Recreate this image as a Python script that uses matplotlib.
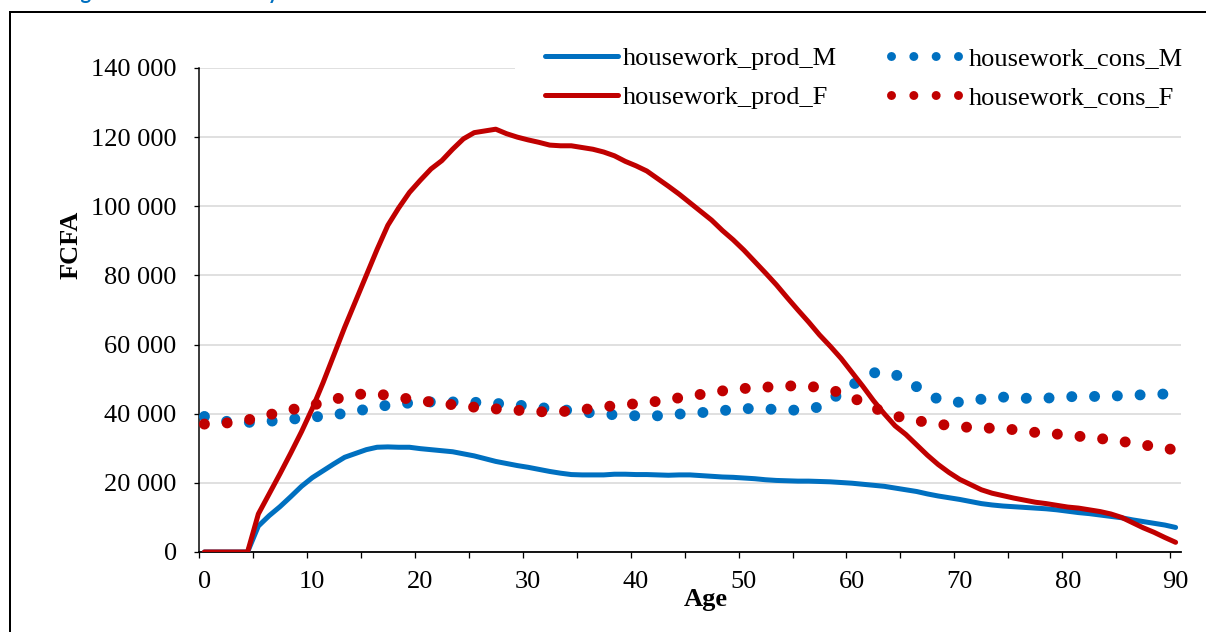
import matplotlib
matplotlib.use("Agg")
import matplotlib.pyplot as plt
from matplotlib.lines import Line2D
from matplotlib.patches import Rectangle
from matplotlib.ticker import FuncFormatter, MultipleLocator, FixedLocator

plt.rcParams['font.family'] = ['Liberation Serif', 'DejaVu Serif']

ages = list(range(0, 91))

housework_prod_M = [
    0, 0, 0, 0, 0, 7500, 10500, 13100, 16000, 19000,
    21500, 23500, 25500, 27400, 28500, 29600, 30300, 30400, 30300, 30300,
    29900, 29600, 29300, 29000, 28400, 27800, 27000, 26200, 25600, 25000,
    24500, 23900, 23300, 22800, 22400, 22300, 22300, 22300, 22500, 22500,
    22400, 22400, 22300, 22200, 22300, 22300, 22100, 21900, 21700, 21600,
    21400, 21200, 20900, 20700, 20600, 20500, 20500, 20400, 20300, 20100,
    19900, 19600, 19300, 19000, 18500, 18000, 17500, 16800, 16200, 15700,
    15200, 14600, 14000, 13600, 13300, 13100, 12900, 12700, 12500, 12200,
    11800, 11400, 11100, 10700, 10300, 9900, 9300, 8800, 8300, 7800,
    7100]

housework_prod_F = [
    0, 0, 0, 0, 0, 11000, 16800, 22600, 28600, 34800,
    41500, 49000, 57000, 65000, 72500, 80000, 87500, 94500, 99500, 104000,
    107500, 110800, 113200, 116500, 119500, 121300, 121800, 122300, 121000, 120000,
    119200, 118500, 117700, 117500, 117500, 117000, 116500, 115700, 114600, 113000,
    111700, 110200, 108000, 105800, 103500, 101000, 98500, 96000, 93000, 90300,
    87300, 84000, 80700, 77300, 73600, 70000, 66500, 62800, 59500, 56000,
    52000, 48000, 43800, 40000, 36500, 34000, 31000, 28000, 25300, 23000,
    21000, 19500, 18000, 17000, 16300, 15600, 15000, 14400, 14000, 13500,
    13000, 12700, 12200, 11700, 11000, 10000, 8500, 7000, 5700, 4200,
    2800]

housework_cons_M = [
    39200, 38500, 37800, 37600, 37500, 37600, 37800, 38100, 38400, 38700,
    39000, 39300, 39700, 40100, 40700, 41300, 41900, 42500, 42800, 43100,
    43300, 43400, 43400, 43400, 43400, 43300, 43200, 43000, 42700, 42500,
    42200, 41800, 41500, 41200, 40900, 40500, 40200, 39900, 39700, 39500,
    39400, 39400, 39400, 39600, 39900, 40100, 40300, 40600, 40900, 41200,
    41400, 41600, 41400, 41200, 41100, 41000, 41300, 42000, 43800, 46200,
    48200, 50300, 51800, 52200, 51300, 50000, 47800, 45800, 44200, 43600,
    43300, 43600, 44200, 44600, 44800, 44700, 44500, 44300, 44500, 44700,
    44900, 45000, 45000, 45000, 45100, 45200, 45300, 45500, 45600, 45700,
    45800]

housework_cons_F = [
    37000, 37100, 37300, 37700, 38200, 38900, 39700, 40400, 41100, 41800,
    42500, 43200, 44100, 44900, 45500, 45800, 45700, 45300, 44800, 44200,
    43800, 43400, 43000, 42600, 42200, 41900, 41700, 41400, 41200, 41000,
    40800, 40600, 40500, 40600, 40800, 41100, 41600, 42000, 42300, 42600,
    42900, 43200, 43600, 44100, 44600, 45100, 45600, 46100, 46600, 47000,
    47300, 47500, 47700, 47800, 48000, 48100, 47900, 47600, 46900, 46000,
    44700, 43300, 41800, 40400, 39400, 38600, 38000, 37500, 37000, 36600,
    36300, 36000, 35900, 35800, 35600, 35400, 35000, 34600, 34300, 34100,
    33900, 33500, 33100, 32800, 32500, 32000, 31500, 31000, 30500, 30000,
    29500]

x_tick_labels = ['0', '10', '20', '30', '40', '50', '60', '70', '80', '90']
x_tick_values = [0, 10, 20, 30, 40, 50, 60, 70, 80, 90]

BLUE = '#0070C0'
RED = '#C00000'
px = 72 / 100  # points per pixel at dpi 100
FS = 19

fig = plt.figure(figsize=(12.06, 6.32), dpi=100)
ax = fig.add_axes([199 / 1206, 1 - 552 / 632, (1181 - 199) / 1206, (552 - 68) / 632])

solid_lw = 5 * px
dot_lw = 11 * px
dot_style = (0, (0.001, 2.07))

l_pm, = ax.plot(ages, housework_prod_M, color=BLUE, lw=solid_lw,
                solid_joinstyle='round', solid_capstyle='round', zorder=3)
l_cm, = ax.plot(ages, housework_cons_M, color=BLUE, lw=dot_lw, linestyle=dot_style,
                dash_capstyle='round', zorder=3)
l_pf, = ax.plot(ages, housework_prod_F, color=RED, lw=solid_lw,
                solid_joinstyle='round', solid_capstyle='round', zorder=3)
l_cf, = ax.plot(ages, housework_cons_F, color=RED, lw=dot_lw, linestyle=dot_style,
                dash_capstyle='round', zorder=3)

ax.set_xlim(-0.5, 90.5)
ax.set_ylim(0, 140000)

# y axis
ax.yaxis.set_major_locator(MultipleLocator(20000))
ax.yaxis.set_major_formatter(FuncFormatter(lambda v, p: f"{int(v):,}".replace(',', ' ')))
ax.tick_params(axis='y', which='major', direction='out', length=5 * px, width=1.3 * px,
               pad=12.5, labelsize=FS, colors='black')
ax.grid(axis='y', color='#d9d9d9', lw=1.6 * px, zorder=0)
ax.set_axisbelow(True)

# x axis: labels at category centres, tick marks between categories
ax.xaxis.set_major_locator(FixedLocator(x_tick_values))
ax.set_xticklabels(x_tick_labels)
ax.xaxis.set_minor_locator(FixedLocator([-0.5 + 5 * k for k in range(19)]))
ax.tick_params(axis='x', which='major', length=0, pad=14, labelsize=FS)
ax.tick_params(axis='x', which='minor', direction='out', length=6 * px, width=1.3 * px)

for s in ['top', 'right']:
    ax.spines[s].set_visible(False)
ax.spines['left'].set_linewidth(1.5 * px)
ax.spines['bottom'].set_linewidth(1.8 * px)

ax.set_xlabel('Age', fontsize=FS, fontweight='bold')
ax.xaxis.set_label_coords((706 - 199) / 982, (552 - 588) / 484)
ax.set_ylabel('FCFA', fontsize=FS, fontweight='bold')
ax.yaxis.set_label_coords(-0.119, (552 - 245) / 484)

# white legend area: hides the top gridline behind the legend, stays under data lines
ax.add_patch(Rectangle((515 / 1206, 1 - 122 / 632), (1206 - 515) / 1206, (122 - 14) / 632,
                       transform=fig.transFigure, facecolor='white', edgecolor='none',
                       zorder=2, clip_on=False))

# legend proxies (legend dots are drawn a little smaller than in the plot)
h_pm = Line2D([], [], color=BLUE, lw=solid_lw, solid_capstyle='round')
h_pf = Line2D([], [], color=RED, lw=solid_lw, solid_capstyle='round')
h_cm = Line2D([], [], color=BLUE, lw=9 * px, linestyle=(0, (0.001, 2.48)), dash_capstyle='round')
h_cf = Line2D([], [], color=RED, lw=9 * px, linestyle=(0, (0.001, 2.48)), dash_capstyle='round')

leg = ax.legend(handles=[h_pm, h_pf, h_cm, h_cf],
                labels=['housework_prod_M', 'housework_prod_F', 'housework_cons_M', 'housework_cons_F'],
                ncol=2, loc='upper right',
                bbox_to_anchor=(1212 / 1206, 1 - 18 / 632), bbox_transform=fig.transFigure,
                fontsize=FS, frameon=False,
                handlelength=2.75, handletextpad=0.2, columnspacing=2.04,
                labelspacing=0.58, borderpad=1.1, borderaxespad=0)

# outer frame of the exhibit
fig.add_artist(Line2D([10 / 1206, 10 / 1206], [0, 1 - 12 / 632], transform=fig.transFigure,
                      color='black', lw=2 * px, zorder=5))
fig.add_artist(Line2D([10 / 1206, 1], [1 - 12 / 632, 1 - 12 / 632], transform=fig.transFigure,
                      color='black', lw=2 * px, zorder=5))

# cut-off caption above the frame (only its descenders are visible, as in the original)
fig.text(64 / 1206, 1 + 1.5 / 632, 'Figure 8: Housework by sex', color=BLUE,
         fontsize=14.5, fontweight='bold', family=['Lato', 'DejaVu Sans'],
         ha='left', va='baseline')

fig.savefig('out.png', dpi=100)
